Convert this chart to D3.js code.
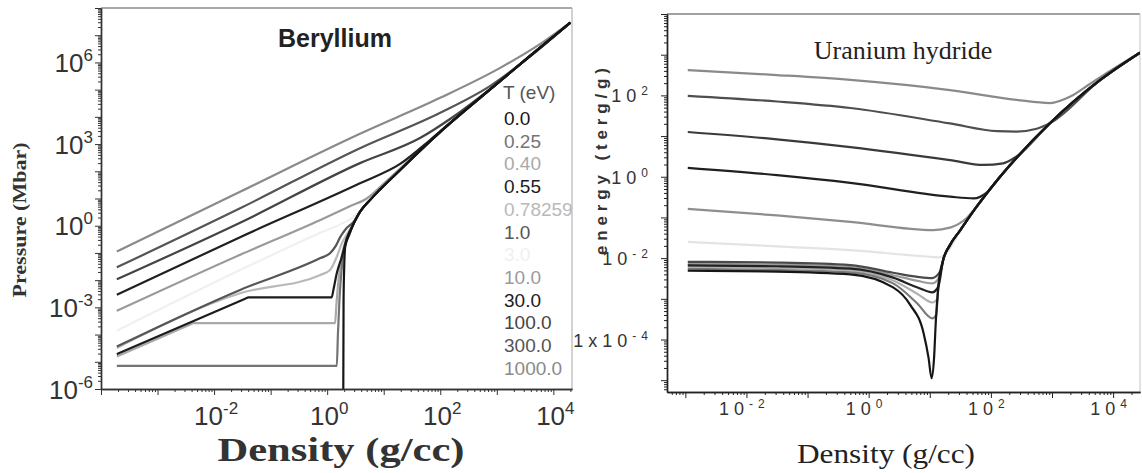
<!DOCTYPE html>
<html lang="en">
<head>
<meta charset="utf-8">
<title>Beryllium pressure and uranium hydride energy</title>
<script src="https://d3js.org/d3.v7.min.js"></script>
<style>
  body { margin: 0; background: #fff; }
  svg { display: block; }
  .sans { font-family: "Liberation Sans", Arial, sans-serif; }
  .serif { font-family: "Liberation Serif", "Times New Roman", serif; }
</style>
</head>
<body>
<div id="chart"></div>
<script>

// legend temperatures (eV) and the grey each one is drawn in
const temps = ["0.0", "0.25", "0.40", "0.55", "0.78259", "1.0", "3.0", "10.0", "30.0", "100.0", "300.0", "1000.0"];
const tempColors = ["#151515", "#747474", "#a9a9a9", "#1c1c1c", "#b9b9b9", "#565656", "#f0f0f0", "#9a9a9a", "#202020", "#444444", "#555555", "#8a8a8a"];

// Beryllium: [log10 density (g/cc), log10 pressure (Mbar)]
const beEnv = [[0.58, 0.51], [0.76, 0.95], [1.29, 2.05], [2.0, 3.45], [2.94, 5.11], [3.59, 6.24], [4.30, 7.46]];
const beT0 = [[0.285, -6.2], [0.29, -2.73], [0.30, -1.63], [0.32, -0.77], [0.39, -0.34], [0.47, 0.09]].concat(beEnv);
const beT025 = [[-3.72, -5.15], [0.17, -5.15], [0.19, -4.0], [0.22, -2.6], [0.26, -1.5], [0.32, -0.7], [0.42, -0.15]].concat(beEnv);
const beT040 = [[-3.72, -4.81], [-2.43, -3.635], [-2.37, -3.58], [0.14, -3.58], [0.16, -3.0], [0.20, -2.0], [0.25, -1.2], [0.33, -0.55], [0.45, 0.0]].concat(beEnv);
const beT055 = [[-3.72, -4.72], [-1.45, -2.684], [-1.39, -2.63], [0.08, -2.63], [0.11, -2.36], [0.17, -1.75], [0.26, -1.14], [0.35, -0.45], [0.47, 0.08]].concat(beEnv);
const beT078 = [[-3.72, -4.49], [-1.54, -2.48], [-0.12, -1.81], [0.05, -1.63], [0.17, -1.14], [0.27, -0.6], [0.37, -0.25], [0.47, 0.1]].concat(beEnv);
const beT1 = [[-3.72, -4.44], [-1.54, -2.36], [-0.12, -1.19], [0.05, -1.01], [0.15, -0.75], [0.23, -0.42], [0.33, -0.12], [0.47, 0.15]].concat(beEnv);
const beT3 = [[-3.72, -3.86], [-1.54, -1.63], [-0.12, -0.26], [0.32, 0.14], [0.45, 0.30], [0.62, 0.62], [0.80, 1.03], [1.29, 2.05], [2.0, 3.45], [2.94, 5.11], [3.59, 6.24], [4.30, 7.46]];
const beT10 = [[-3.72, -3.13], [-1.54, -1.07], [-0.12, 0.21], [0.41, 0.72], [0.70, 1.0], [0.95, 1.45], [1.29, 2.1], [2.0, 3.45], [2.94, 5.11], [3.59, 6.24], [4.30, 7.46]];
const beT30 = [[-3.72, -2.54], [-1.54, -0.42], [0.58, 1.56], [1.29, 2.27], [1.82, 3.15], [2.0, 3.47], [2.94, 5.11], [3.59, 6.24], [4.30, 7.46]];
const beT100 = [[-3.72, -1.97], [-1.54, 0.11], [0.58, 2.30], [1.65, 3.23], [2.18, 3.93], [2.94, 5.12], [3.59, 6.25], [4.30, 7.46]];
const beT300 = [[-3.72, -1.53], [-1.54, 0.64], [0.58, 2.85], [2.0, 4.15], [2.885, 5.14], [3.59, 6.22], [4.30, 7.46]];
const beT1000 = [[-3.72, -0.95], [-1.54, 1.25], [0.58, 3.38], [2.0, 4.70], [3.06, 5.80], [3.77, 6.68], [4.30, 7.46]];
const beSeries = [beT0, beT025, beT040, beT055, beT078, beT1, beT3, beT10, beT30, beT100, beT300, beT1000];

// Uranium hydride: [log10 density (g/cc), log10 energy (terg/g)]
const uhEnv = [[1.50, -1.31], [1.77, -0.73], [2.15, 0.0], [2.97, 1.32], [3.79, 2.38], [4.44, 3.05]];
const uhC1 = [[-2.96, 2.62], [-1.5, 2.50], [-0.30, 2.38], [1.33, 2.13], [2.42, 1.89], [2.97, 1.81], [3.30, 1.97], [3.62, 2.28], [3.95, 2.6], [4.44, 3.05]];
const uhC2 = [[-2.96, 1.99], [-1.5, 1.85], [-0.30, 1.69], [1.33, 1.31], [2.1, 1.12], [2.42, 1.11], [2.75, 1.18], [2.97, 1.32], [3.79, 2.38], [4.44, 3.05]];
const uhC3 = [[-2.96, 1.10], [-1.5, 0.92], [-0.30, 0.73], [1.33, 0.41], [1.88, 0.29], [2.2, 0.33], [2.42, 0.50], [2.97, 1.32], [3.79, 2.38], [4.44, 3.05]];
const uhC4 = [[-2.96, 0.22], [-1.5, 0.04], [-0.30, -0.15], [1.33, -0.49], [1.72, -0.53], [1.92, -0.40]].concat(uhEnv.slice(2));
const uhC5 = [[-2.96, -0.79], [-1.5, -0.95], [-0.30, -1.11], [1.06, -1.31], [1.33, -1.25], [1.60, -1.02]].concat(uhEnv.slice(1));
const uhC6 = [[-2.96, -1.60], [-1.5, -1.71], [0.02, -1.84], [0.6, -1.92], [0.95, -1.96], [1.15, -1.98], [1.30, -1.82], [1.40, -1.58]].concat(uhEnv);
const uhC7 = [[-2.96, -2.09], [-1.5, -2.11], [-0.30, -2.17], [0.40, -2.36], [0.80, -2.46], [1.04, -2.49], [1.18, -2.30], [1.22, -2.04], [1.33, -1.68]].concat(uhEnv);
const uhC8 = [[-2.96, -2.14], [-1.5, -2.16], [-0.30, -2.22], [0.40, -2.42], [0.80, -2.56], [1.04, -2.62], [1.16, -2.45], [1.22, -2.04], [1.33, -1.68]].concat(uhEnv);
const uhC9 = [[-2.96, -2.18], [-1.5, -2.20], [-0.30, -2.26], [0.40, -2.48], [0.80, -2.72], [1.04, -2.84], [1.14, -2.70], [1.22, -2.04], [1.33, -1.68]].concat(uhEnv);
const uhC10 = [[-2.96, -2.22], [-1.5, -2.24], [-0.30, -2.30], [0.40, -2.55], [0.80, -2.88], [1.04, -3.09], [1.125, -3.0], [1.14, -2.70], [1.22, -2.04], [1.33, -1.68]].concat(uhEnv);
const uhC11 = [[-2.96, -2.27], [-1.5, -2.29], [-0.30, -2.35], [0.40, -2.62], [0.80, -3.12], [1.04, -3.48], [1.105, -3.40], [1.14, -2.70], [1.22, -2.04], [1.33, -1.68]].concat(uhEnv);
const uhC12 = [[-2.96, -2.31], [-1.5, -2.33], [-0.30, -2.40], [0.40, -2.72], [0.68, -3.15], [0.90, -3.85], [0.98, -4.45], [1.03, -4.95], [1.07, -4.45], [1.10, -3.52], [1.14, -2.70], [1.22, -2.04], [1.33, -1.68]].concat(uhEnv);
const uhSeries = [uhC6, uhC5, uhC1, uhC2, uhC3, uhC4, uhC10, uhC8, uhC11, uhC7, uhC9, uhC12];
const uhColors = ["#e4e4e4", "#8e8e8e", "#8a8a8a", "#4e4e4e", "#3a3a3a", "#202020", "#b0b0b0", "#9a9a9a", "#7a7a7a", "#4a4a4a", "#222222", "#161616"];

// tick labels: [exponent, text before superscript, superscript]
const beXLabels = [[-2, "10", "-2"], [0, "10", "0"], [2, "10", "2"], [4, "10", "4"]];
const beYLabels = [[-6, "10", "-6"], [-3, "10", "-3"], [0, "10", "0"], [3, "10", "3"], [6, "10", "6"]];
const uhXLabels = [[-2, "10", "-2"], [0, "10", "0"], [2, "10", "2"], [4, "10", "4"]];
const uhYLabels = [[2, "10", "2"], [0, "10", "0"], [-2, "10", "-2"], [-4, "1x10", "-4"]];

const W = 1142, H = 473;
const svg = d3.select("#chart").append("svg")
    .attr("width", W)
    .attr("height", H);
svg.append("rect").attr("width", W).attr("height", H).attr("fill", "#fff");

// scales
const xL = d3.scaleLog().domain([1e-4, Math.pow(10, 4.33)]).range([101, 572]);
const yL = d3.scaleLog().domain([1e-6, 1e8]).range([389, 8]);
const xR = d3.scaleLog().domain([Math.pow(10, -3.3), Math.pow(10, 4.44)]).range([667, 1140]);
const yR = d3.scaleLog().domain([Math.pow(10, -5.29), 1e4]).range([392, 14]);

function decades(scale) {
    var d = scale.domain();
    var lo = Math.ceil(Math.log10(d[0]) - 1e-9), hi = Math.floor(Math.log10(d[1]) + 1e-9);
    return d3.range(lo, hi + 1).map(function(e) { return Math.pow(10, e); });
}
function minors(scale) {
    var d = scale.domain(), out = [];
    var lo = Math.floor(Math.log10(d[0])), hi = Math.ceil(Math.log10(d[1]));
    for (var e = lo; e < hi; e++) {
        for (var m = 2; m < 10; m++) {
            var v = m * Math.pow(10, e);
            if (v >= d[0] && v <= d[1]) out.push(v);
        }
    }
    return out;
}

function drawAxes(x, y, color) {
    var g = svg.append("g");
    var bottom = y.range()[0];
    var left = x.range()[0];
    // minor + major ticks
    g.append("g").attr("transform", "translate(0," + bottom + ")")
        .call(d3.axisBottom(x).tickValues(minors(x)).tickSize(3).tickSizeOuter(0).tickFormat(""));
    g.append("g").attr("transform", "translate(0," + bottom + ")")
        .call(d3.axisBottom(x).tickValues(decades(x)).tickSize(6).tickSizeOuter(0).tickFormat(""));
    g.append("g").attr("transform", "translate(" + left + ",0)")
        .call(d3.axisLeft(y).tickValues(minors(y)).tickSize(3).tickSizeOuter(0).tickFormat(""));
    g.append("g").attr("transform", "translate(" + left + ",0)")
        .call(d3.axisLeft(y).tickValues(decades(y)).tickSize(6).tickSizeOuter(0).tickFormat(""));
    g.selectAll("path.domain").attr("stroke", color).attr("stroke-width", 1.4);
    g.selectAll(".tick line").attr("stroke", color).attr("stroke-width", 1);
}

function supLabel(sel, base, sup, supSize, supDy) {
    sel.append("tspan").text(base);
    sel.append("tspan").attr("font-size", supSize).attr("dy", supDy).text(sup);
}

const line = function(x, y) {
    return d3.line()
        .x(function(d) { return x(Math.pow(10, d[0])); })
        .y(function(d) { return y(Math.pow(10, d[1])); })
        .curve(d3.curveMonotoneX);
};

// ---------- left panel: Beryllium ----------
svg.append("clipPath").attr("id", "clipL").append("rect")
    .attr("x", 101).attr("y", 8).attr("width", 471).attr("height", 381);
svg.append("clipPath").attr("id", "clipR").append("rect")
    .attr("x", 667).attr("y", 14).attr("width", 473).attr("height", 378);

// frame (top and right)
svg.append("line").attr("x1", 101).attr("x2", 572).attr("y1", 8).attr("y2", 8)
    .attr("stroke", "#555").attr("stroke-width", 1.2);
svg.append("line").attr("x1", 572).attr("x2", 572).attr("y1", 8).attr("y2", 389)
    .attr("stroke", "#b5b5b5").attr("stroke-width", 1.2);

const lineL = line(xL, yL);
const drawOrder = [6, 4, 2, 7, 11, 1, 5, 10, 9, 3, 8, 0];
svg.append("g").attr("clip-path", "url(#clipL)")
    .selectAll("path")
    .data(drawOrder)
    .join("path")
    .attr("d", function(i) { return lineL(beSeries[i]); })
    .attr("fill", "none")
    .attr("stroke", function(i) { return tempColors[i]; })
    .attr("stroke-width", 2.2)
    .attr("stroke-linejoin", "round");

drawAxes(xL, yL, "#333");

svg.append("g").attr("class", "sans").attr("fill", "#333").attr("font-size", 26)
    .selectAll("text").data(beYLabels).join("text")
    .attr("x", 93)
    .attr("y", function(d) { return yL(Math.pow(10, d[0])) + 9.5; })
    .attr("text-anchor", "end")
    .each(function(d) { supLabel(d3.select(this), d[1], d[2], 17, -11); });

svg.append("g").attr("class", "sans").attr("fill", "#333").attr("font-size", 26)
    .selectAll("text").data(beXLabels).join("text")
    .attr("x", function(d) { return xL(Math.pow(10, d[0])) + 2; })
    .attr("y", 425)
    .attr("text-anchor", "middle")
    .each(function(d) { supLabel(d3.select(this), d[1], d[2], 17, -11); });

svg.append("text").attr("class", "sans")
    .attr("x", 335).attr("y", 47)
    .attr("text-anchor", "middle")
    .attr("font-size", 25).attr("font-weight", "bold").attr("fill", "#222")
    .text("Beryllium");

// legend
const legend = svg.append("g").attr("class", "sans").attr("clip-path", "url(#clipL)")
    .attr("font-size", 19);
legend.append("text").attr("x", 503).attr("y", 99).attr("fill", "#555").text("T (eV)");
legend.selectAll("text.entry").data(temps).join("text")
    .attr("class", "entry")
    .attr("x", 504)
    .attr("y", function(d, i) { return 125 + i * 22.7; })
    .attr("fill", function(d, i) { return tempColors[i]; })
    .text(function(d) { return d; });

svg.append("text").attr("class", "serif")
    .attr("transform", "translate(26,220) rotate(-90)")
    .attr("text-anchor", "middle")
    .attr("font-size", 19).attr("font-weight", "bold").attr("fill", "#333")
    .attr("textLength", 155).attr("lengthAdjust", "spacingAndGlyphs")
    .text("Pressure (Mbar)");

svg.append("text").attr("class", "serif")
    .attr("x", 341).attr("y", 461)
    .attr("text-anchor", "middle")
    .attr("font-size", 33).attr("font-weight", "bold").attr("fill", "#333")
    .attr("textLength", 247).attr("lengthAdjust", "spacingAndGlyphs")
    .text("Density (g/cc)");

// ---------- right panel: Uranium hydride ----------
svg.append("line").attr("x1", 667).attr("x2", 1140).attr("y1", 14).attr("y2", 14)
    .attr("stroke", "#444").attr("stroke-width", 1.2);
svg.append("line").attr("x1", 1140).attr("x2", 1140).attr("y1", 14).attr("y2", 392)
    .attr("stroke", "#cfcfcf").attr("stroke-width", 1.2);

const lineR = line(xR, yR);
svg.append("g").attr("clip-path", "url(#clipR)")
    .selectAll("path")
    .data(uhSeries)
    .join("path")
    .attr("d", function(d) { return lineR(d); })
    .attr("fill", "none")
    .attr("stroke", function(d, i) { return uhColors[i]; })
    .attr("stroke-width", 2.2)
    .attr("stroke-linejoin", "round");

drawAxes(xR, yR, "#222");

svg.append("g").attr("class", "sans").attr("fill", "#333").attr("font-size", 18)
    .attr("letter-spacing", 5)
    .selectAll("text").data(uhYLabels).join("text")
    .attr("x", 653)
    .attr("y", function(d) { return yR(Math.pow(10, d[0])) + 7; })
    .attr("text-anchor", "end")
    .each(function(d) { supLabel(d3.select(this), d[1], d[2], 12, -7); });

svg.append("g").attr("class", "sans").attr("fill", "#333").attr("font-size", 18)
    .attr("letter-spacing", 5)
    .selectAll("text").data(uhXLabels).join("text")
    .attr("x", function(d) { return xR(Math.pow(10, d[0])) - 2; })
    .attr("y", 415)
    .attr("text-anchor", "middle")
    .each(function(d) { supLabel(d3.select(this), d[1], d[2], 12, -7); });

svg.append("text").attr("class", "serif")
    .attr("x", 903).attr("y", 59)
    .attr("text-anchor", "middle")
    .attr("font-size", 26).attr("fill", "#222")
    .text("Uranium hydride");

svg.append("text").attr("class", "sans")
    .attr("transform", "translate(607,160) rotate(-90)")
    .attr("text-anchor", "middle")
    .attr("font-size", 17).attr("font-weight", "bold").attr("fill", "#333")
    .attr("letter-spacing", 3)
    .attr("textLength", 190).attr("lengthAdjust", "spacing")
    .text("energy (terg/g)");

svg.append("text").attr("class", "serif")
    .attr("x", 886).attr("y", 463)
    .attr("text-anchor", "middle")
    .attr("font-size", 27).attr("fill", "#222")
    .attr("textLength", 178).attr("lengthAdjust", "spacingAndGlyphs")
    .text("Density (g/cc)");

</script>
</body>
</html>
